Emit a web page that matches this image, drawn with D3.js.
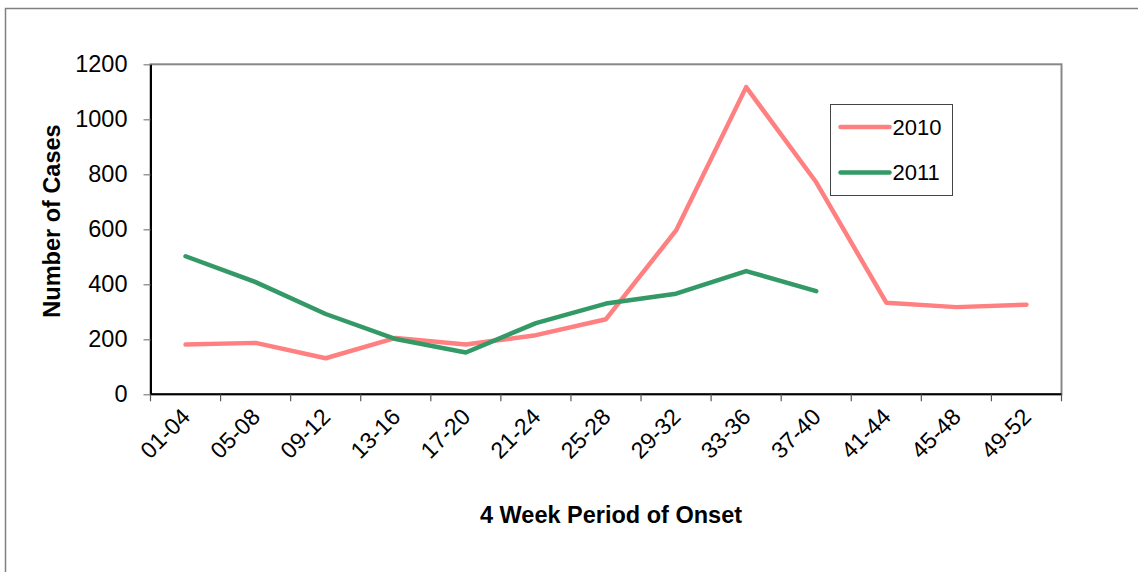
<!DOCTYPE html>
<html lang="en">
<head>
<meta charset="UTF-8">
<title>Cases by 4 Week Period of Onset</title>
<script src="https://d3js.org/d3.v7.min.js"></script>
<style>
    body { margin: 0; background: #fff; }
    svg { display: block; font-family: "Liberation Sans", Arial, sans-serif; }
</style>
</head>
<body>
<svg id="chart"></svg>
<script>
    // data
    const periods = ["01-04", "05-08", "09-12", "13-16", "17-20", "21-24", "25-28",
                     "29-32", "33-36", "37-40", "41-44", "45-48", "49-52"];
    const cases2010 = [181, 187, 131, 205, 181, 215, 273, 596, 1117, 771, 333, 317, 326];
    const cases2011 = [502, 408, 292, 201, 152, 259, 330, 366, 448, 375];
    const yTicks = [0, 200, 400, 600, 800, 1000, 1200];

    const series = [
        { name: "2010", values: cases2010, color: "#ff8080" },
        { name: "2011", values: cases2011, color: "#339966" }
    ];

    const W = 1138, H = 572;
    const plot = { left: 150.5, right: 1061.5, top: 64.3, bottom: 394.3 };

    const svg = d3.select("#chart").attr("width", W).attr("height", H);

    // outer chart frame (only top/left edges visible)
    svg.append("rect")
        .attr("x", 5.5).attr("y", 8.5)
        .attr("width", W + 20).attr("height", H + 20)
        .attr("fill", "#fff")
        .attr("stroke", "#808080")
        .attr("stroke-width", 1.5);

    const x = d3.scaleBand().domain(periods).range([plot.left, plot.right]);
    const y = d3.scaleLinear().domain([0, 1200]).range([plot.bottom, plot.top]);

    // plot area border (grey), axes drawn over it
    svg.append("rect")
        .attr("x", plot.left).attr("y", plot.top)
        .attr("width", plot.right - plot.left).attr("height", plot.bottom - plot.top)
        .attr("fill", "none")
        .attr("stroke", "#888")
        .attr("stroke-width", 2);

    // y axis
    const yAxis = svg.append("g")
        .attr("transform", `translate(${plot.left},0)`)
        .call(d3.axisLeft(y).tickValues(yTicks).tickFormat(d3.format("d"))
            .tickSize(7).tickPadding(16).tickSizeOuter(0));
    yAxis.select(".domain").attr("stroke", "#000").attr("stroke-width", 2);
    yAxis.selectAll(".tick line").attr("stroke", "#808080").attr("stroke-width", 1.2);
    yAxis.selectAll(".tick text")
        .attr("font-size", 23.5)
        .attr("font-family", "Liberation Sans, Arial, sans-serif")
        .attr("fill", "#000");

    // x axis: ticks on band boundaries
    const xAxis = svg.append("g")
        .attr("transform", `translate(0,${plot.bottom})`);
    xAxis.append("line")
        .attr("x1", plot.left).attr("x2", plot.right)
        .attr("stroke", "#000").attr("stroke-width", 2);
    const edges = periods.map(p => x(p)).concat([x(periods[periods.length - 1]) + x.bandwidth()]);
    xAxis.selectAll(".xtick")
        .data(edges)
        .join("line")
        .attr("class", "xtick")
        .attr("x1", d => d).attr("x2", d => d)
        .attr("y1", 0).attr("y2", 7)
        .attr("stroke", "#555").attr("stroke-width", 1.2);

    svg.selectAll(".xlabel")
        .data(periods)
        .join("text")
        .attr("class", "xlabel")
        .attr("transform", d => `translate(${x(d) + x.bandwidth() / 2 + 6},${plot.bottom + 24}) rotate(-45)`)
        .attr("text-anchor", "end")
        .attr("font-size", 23)
        .text(d => d);

    // axis titles
    svg.append("text")
        .attr("transform", `translate(60,221) rotate(-90)`)
        .attr("text-anchor", "middle")
        .attr("font-size", 23.5)
        .attr("font-weight", "bold")
        .text("Number of Cases");

    svg.append("text")
        .attr("x", 611).attr("y", 523)
        .attr("text-anchor", "middle")
        .attr("font-size", 23.5)
        .attr("font-weight", "bold")
        .text("4 Week Period of Onset");

    // lines
    const line = d3.line()
        .x((d, i) => x(periods[i]) + x.bandwidth() / 2)
        .y(d => y(d));

    svg.selectAll(".series")
        .data(series)
        .join("path")
        .attr("class", "series")
        .attr("d", d => line(d.values))
        .attr("fill", "none")
        .attr("stroke", d => d.color)
        .attr("stroke-width", 4.5)
        .attr("stroke-linejoin", "round")
        .attr("stroke-linecap", "round");

    // legend
    const legend = svg.append("g").attr("transform", "translate(830.5,104.5)");
    legend.append("rect")
        .attr("width", 122).attr("height", 91)
        .attr("fill", "#fff")
        .attr("stroke", "#444")
        .attr("stroke-width", 1);
    const item = legend.selectAll(".item")
        .data(series)
        .join("g")
        .attr("class", "item")
        .attr("transform", (d, i) => `translate(0,${22.5 + i * 45.5})`);
    item.append("line")
        .attr("x1", 10).attr("x2", 59)
        .attr("stroke", d => d.color)
        .attr("stroke-width", 4.5)
        .attr("stroke-linecap", "round");
    item.append("text")
        .attr("x", 62).attr("dy", "0.36em")
        .attr("font-size", 22)
        .text(d => d.name);
</script>
</body>
</html>
